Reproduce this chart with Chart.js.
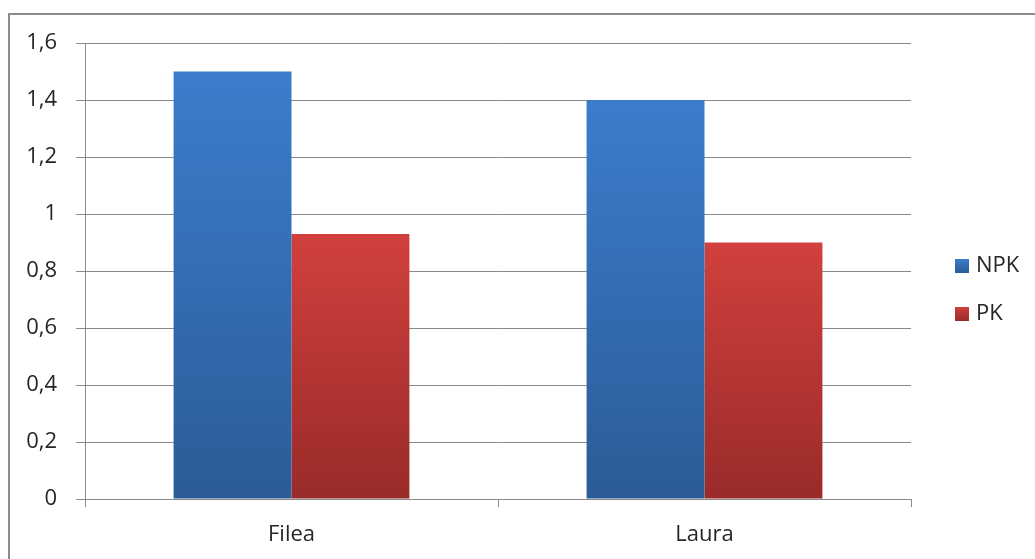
<!DOCTYPE html>
<html>
<head>
<meta charset="utf-8">
<script src="https://cdn.jsdelivr.net/npm/chart.js@4/dist/chart.umd.min.js"></script>
<style>
  html, body { margin: 0; padding: 0; background: #ffffff; }
  #wrap { width: 1035px; height: 559px; position: relative; }
</style>
</head>
<body>
<div id="wrap"><canvas id="chart" width="1035" height="559"></canvas></div>
<script>
// Varieties and fertiliser treatments
const categories = ['Filea', 'Laura'];
const npkValues = [1.5, 1.4];
const pkValues = [0.93, 0.9];
const seriesLabels = ['NPK', 'PK'];
const yTickLabels = ['0', '0,2', '0,4', '0,6', '0,8', '1', '1,2', '1,4', '1,6'];

const FONT = '"Open Sans", "Liberation Sans", sans-serif';
const FONT_SIZE = 22;
const TEXT = '#262626';
const GRID = '#8a8a8a';

// per-bar vertical gradient between top and bottom colours
function barGradient(top, bottom) {
  return function (ctx) {
    const chart = ctx.chart;
    if (!chart.chartArea || !ctx.parsed) return top;
    const y = chart.scales.y;
    const y0 = y.getPixelForValue(ctx.parsed.y);
    const y1 = y.getPixelForValue(0);
    const g = chart.ctx.createLinearGradient(0, y0, 0, y1);
    g.addColorStop(0, top);
    g.addColorStop(1, bottom);
    return g;
  };
}

const seriesTop = ['#3b7dcc', '#d1403d'];
const seriesBottom = ['#2c5b97', '#992b29'];

// outer frame and right-hand legend
const framePlugin = {
  id: 'frame',
  afterDraw(chart) {
    const c = chart.ctx;
    c.save();
    c.strokeStyle = '#8c8c8c';
    c.lineWidth = 2;
    c.beginPath();
    c.moveTo(9, 600);
    c.lineTo(9, 14);
    c.lineTo(1100, 14);
    c.stroke();

    const lx = 955, ly = [266, 314];
    chart.data.datasets.forEach((ds, i) => {
      const g = c.createLinearGradient(0, ly[i] - 7, 0, ly[i] + 7);
      g.addColorStop(0, seriesTop[i]);
      g.addColorStop(1, seriesBottom[i]);
      c.fillStyle = g;
      c.fillRect(lx, ly[i] - 7, 14, 14);
      c.fillStyle = TEXT;
      c.font = FONT_SIZE + 'px ' + FONT;
      c.textBaseline = 'middle';
      c.textAlign = 'left';
      c.fillText(ds.label, lx + 21, ly[i]);
    });
    c.restore();
  }
};

new Chart(document.getElementById('chart'), {
  type: 'bar',
  data: {
    labels: categories,
    datasets: [
      { label: seriesLabels[0], data: npkValues, backgroundColor: barGradient(seriesTop[0], seriesBottom[0]) },
      { label: seriesLabels[1], data: pkValues, backgroundColor: barGradient(seriesTop[1], seriesBottom[1]) }
    ]
  },
  options: {
    responsive: false,
    animation: false,
    devicePixelRatio: 1,
    layout: { padding: { left: 0, top: 43, right: 124, bottom: 0 } },
    categoryPercentage: 0.571,
    barPercentage: 1.0,
    plugins: { legend: { display: false }, tooltip: { enabled: false } },
    scales: {
      x: {
        grid: { offset: true, drawOnChartArea: false, drawTicks: true, tickLength: 8, color: GRID },
        border: { color: GRID },
        ticks: { color: TEXT, font: { family: FONT, size: FONT_SIZE }, padding: 15 },
        afterFit(s) { s.height = 60; }
      },
      y: {
        min: 0, max: 1.6,
        grid: { color: GRID, tickLength: 9 },
        border: { color: GRID },
        ticks: {
          stepSize: 0.2,
          color: TEXT,
          font: { family: FONT, size: FONT_SIZE },
          padding: 19,
          callback: (v, i) => yTickLabels[i]
        },
        afterFit(s) { s.width = 85; }
      }
    }
  },
  plugins: [framePlugin]
});
</script>
</body>
</html>
